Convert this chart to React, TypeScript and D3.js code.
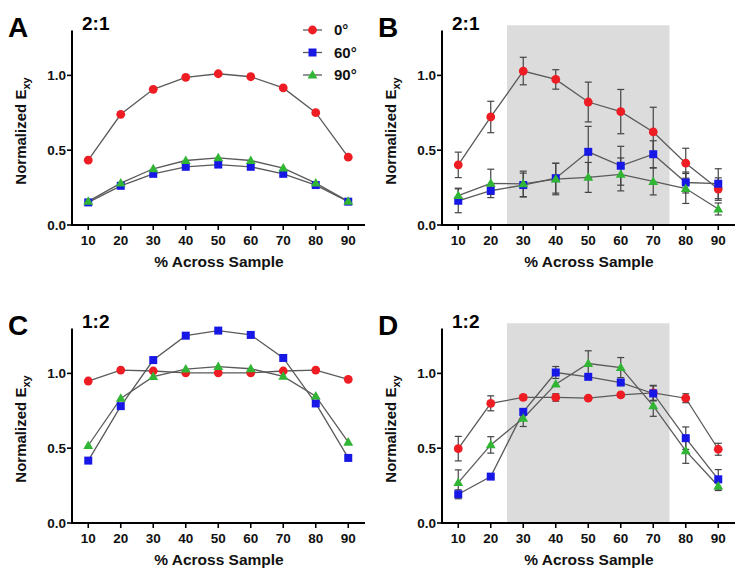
import React from 'react';
import * as d3 from 'd3';

const X_PCT = [10, 20, 30, 40, 50, 60, 70, 80, 90];
const Y_TICKS = [0, 0.5, 1.0];
const SERIES_NAMES = ['0°', '60°', '90°'];
const COLORS = ['#ee1d24', '#1818e6', '#30b535'];
const SHAPES = ['circle', 'square', 'triangle'];

// Panel A (2:1 model)
const A_0 = [0.433, 0.74, 0.907, 0.987, 1.011, 0.991, 0.916, 0.751, 0.453];
const A_60 = [0.151, 0.262, 0.342, 0.389, 0.404, 0.389, 0.342, 0.267, 0.156];
const A_90 = [0.158, 0.28, 0.376, 0.431, 0.449, 0.431, 0.38, 0.28, 0.158];

// Panel B (2:1 experiment)
const B_0 = [0.402, 0.722, 1.029, 0.973, 0.822, 0.758, 0.622, 0.413, 0.24];
const B_0_ERR = [0.085, 0.105, 0.092, 0.065, 0.133, 0.148, 0.165, 0.1, 0.075];
const B_60 = [0.162, 0.229, 0.267, 0.313, 0.489, 0.396, 0.473, 0.284, 0.276];
const B_60_ERR = [0.08, 0.025, 0.08, 0.1, 0.17, 0.13, 0.09, 0.07, 0.1];
const B_90 = [0.196, 0.278, 0.275, 0.307, 0.318, 0.338, 0.291, 0.244, 0.107];
const B_90_ERR = [0.05, 0.095, 0.085, 0.105, 0.1, 0.11, 0.09, 0.1, 0.04];

// Panel C (1:2 model)
const C_0 = [0.949, 1.022, 1.016, 1.004, 1.004, 1.004, 1.016, 1.022, 0.96];
const C_60 = [0.417, 0.781, 1.089, 1.252, 1.286, 1.257, 1.103, 0.799, 0.435];
const C_90 = [0.518, 0.833, 0.978, 1.029, 1.045, 1.031, 0.98, 0.848, 0.54];

// Panel D (1:2 experiment)
const D_0 = [0.497, 0.8, 0.839, 0.839, 0.834, 0.856, 0.87, 0.834, 0.493];
const D_0_ERR = [0.082, 0.05, 0.015, 0.025, 0.01, 0.015, 0.05, 0.03, 0.04];
const D_60 = [0.192, 0.31, 0.743, 1.006, 0.977, 0.939, 0.866, 0.567, 0.292];
const D_60_ERR = [0.03, 0, 0.02, 0.04, 0.01, 0.02, 0.05, 0.075, 0.065];
const D_90 = [0.27, 0.522, 0.7, 0.928, 1.066, 1.039, 0.783, 0.482, 0.247];
const D_90_ERR = [0.085, 0.055, 0.055, 0, 0.085, 0.067, 0.07, 0.083, 0.03];

const SHADE_RANGE = [25, 75];
const SHADE_TOP = 1.335;

const FONT = '"Liberation Sans", Arial, sans-serif';

type Series = { values: number[]; err?: number[] };
type PanelProps = {
  ox: number;
  oy: number;
  letter: string;
  ratio: string;
  series: Series[];
  shaded: boolean;
  legend: boolean;
};

function Marker({ shape, x, y, color }: { shape: string; x: number; y: number; color: string }) {
  if (shape === 'circle') return <circle cx={x} cy={y} r={4.4} fill={color} />;
  if (shape === 'square') return <rect x={x - 4} y={y - 4} width={8} height={8} fill={color} />;
  const s = d3.symbol().type(d3.symbolTriangle).size(42)();
  return <path d={s || ''} transform={`translate(${x},${y + 0.6})`} fill={color} />;
}

function Panel({ ox, oy, letter, ratio, series, shaded, legend }: PanelProps) {
  const x = d3.scaleLinear().domain([5, 95]).range([ox + 72, ox + 364.5]);
  const y = d3.scaleLinear().domain([0, 1.3]).range([oy + 225, oy + 30.5]);
  const line = d3
    .line<number>()
    .x((_, i) => x(X_PCT[i]))
    .y((d) => y(d));
  const axisLeft = ox + 72;
  const axisBottom = oy + 225;
  return (
    <g>
      {shaded && (
        <rect
          x={x(SHADE_RANGE[0])}
          y={y(SHADE_TOP)}
          width={x(SHADE_RANGE[1]) - x(SHADE_RANGE[0])}
          height={y(0) - y(SHADE_TOP)}
          fill="#dcdcdc"
        />
      )}
      {/* lines */}
      {series.map((s, si) => (
        <path key={'l' + si} d={line(s.values) || ''} fill="none" stroke="#5a5a5a" strokeWidth={1.3} />
      ))}
      {/* error bars */}
      {series.map((s, si) =>
        s.err
          ? s.values.map((v, i) => {
              const e = s.err![i];
              if (!e) return null;
              const cx = x(X_PCT[i]);
              const y1 = y(v + e);
              const y2 = y(v - e);
              return (
                <g key={'e' + si + '-' + i} stroke="#444" strokeWidth={1.2}>
                  <line x1={cx} x2={cx} y1={y1} y2={y2} />
                  <line x1={cx - 3.5} x2={cx + 3.5} y1={y1} y2={y1} />
                  <line x1={cx - 3.5} x2={cx + 3.5} y1={y2} y2={y2} />
                </g>
              );
            })
          : null
      )}
      {/* markers */}
      {series.map((s, si) =>
        s.values.map((v, i) => (
          <Marker key={'m' + si + '-' + i} shape={SHAPES[si]} x={x(X_PCT[i])} y={y(v)} color={COLORS[si]} />
        ))
      )}
      {/* axes */}
      <line x1={axisLeft} x2={axisLeft} y1={y(1.3)} y2={axisBottom + 1} stroke="#000" strokeWidth={2} />
      <line x1={axisLeft - 1} x2={ox + 365} y1={axisBottom} y2={axisBottom} stroke="#000" strokeWidth={2} />
      {Y_TICKS.map((t) => (
        <g key={'yt' + t}>
          <line x1={axisLeft - 5} x2={axisLeft} y1={y(t)} y2={y(t)} stroke="#000" strokeWidth={1.6} />
          <text
            x={axisLeft - 6}
            y={y(t)}
            dy="0.36em"
            textAnchor="end"
            fontFamily={FONT}
            fontWeight="bold"
            fontSize={13.5}
            fill="#111"
          >
            {t.toFixed(1)}
          </text>
        </g>
      ))}
      {X_PCT.map((t) => (
        <g key={'xt' + t}>
          <line x1={x(t)} x2={x(t)} y1={axisBottom} y2={axisBottom + 5} stroke="#000" strokeWidth={1.6} />
          <text
            x={x(t)}
            y={axisBottom + 20}
            textAnchor="middle"
            fontFamily={FONT}
            fontWeight="bold"
            fontSize={13.5}
            fill="#111"
          >
            {t}
          </text>
        </g>
      ))}
      <text
        x={ox + 219}
        y={oy + 267}
        textAnchor="middle"
        fontFamily={FONT}
        fontWeight="bold"
        fontSize={15.5}
        fill="#111"
      >
        % Across Sample
      </text>
      <text
        transform={`translate(${ox + 26},${oy + 131}) rotate(-90)`}
        textAnchor="middle"
        fontFamily={FONT}
        fontWeight="bold"
        fontSize={15}
        fill="#111"
      >
        Normalized E
        <tspan fontSize={11} dy={4}>
          xy
        </tspan>
      </text>
      <text x={ox + 8} y={oy + 37} fontFamily={FONT} fontWeight="bold" fontSize={28} fill="#000">
        {letter}
      </text>
      <text x={ox + 82} y={oy + 30} fontFamily={FONT} fontWeight="bold" fontSize={19} fill="#000">
        {ratio}
      </text>
      {legend &&
        SERIES_NAMES.map((name, i) => {
          const ly = oy + 30 + i * 22.5;
          return (
            <g key={'lg' + i}>
              <line x1={ox + 303} x2={ox + 322} y1={ly} y2={ly} stroke="#5a5a5a" strokeWidth={1.3} />
              <Marker shape={SHAPES[i]} x={ox + 312.5} y={ly} color={COLORS[i]} />
              <text
                x={ox + 334}
                y={ly}
                dy="0.36em"
                fontFamily={FONT}
                fontWeight="bold"
                fontSize={15}
                fill="#111"
              >
                {name}
              </text>
            </g>
          );
        })}
    </g>
  );
}

export default function App() {
  return (
    <svg
      width={747}
      height={579}
      style={{ position: 'absolute', left: 0, top: 0, background: '#fff' }}
    >
      <rect width={747} height={579} fill="#fff" />
      <Panel
        ox={0}
        oy={0}
        letter="A"
        ratio="2:1"
        shaded={false}
        legend={true}
        series={[{ values: A_0 }, { values: A_60 }, { values: A_90 }]}
      />
      <Panel
        ox={370}
        oy={0}
        letter="B"
        ratio="2:1"
        shaded={true}
        legend={false}
        series={[
          { values: B_0, err: B_0_ERR },
          { values: B_60, err: B_60_ERR },
          { values: B_90, err: B_90_ERR },
        ]}
      />
      <Panel
        ox={0}
        oy={298}
        letter="C"
        ratio="1:2"
        shaded={false}
        legend={false}
        series={[{ values: C_0 }, { values: C_60 }, { values: C_90 }]}
      />
      <Panel
        ox={370}
        oy={298}
        letter="D"
        ratio="1:2"
        shaded={true}
        legend={false}
        series={[
          { values: D_0, err: D_0_ERR },
          { values: D_60, err: D_60_ERR },
          { values: D_90, err: D_90_ERR },
        ]}
      />
    </svg>
  );
}
